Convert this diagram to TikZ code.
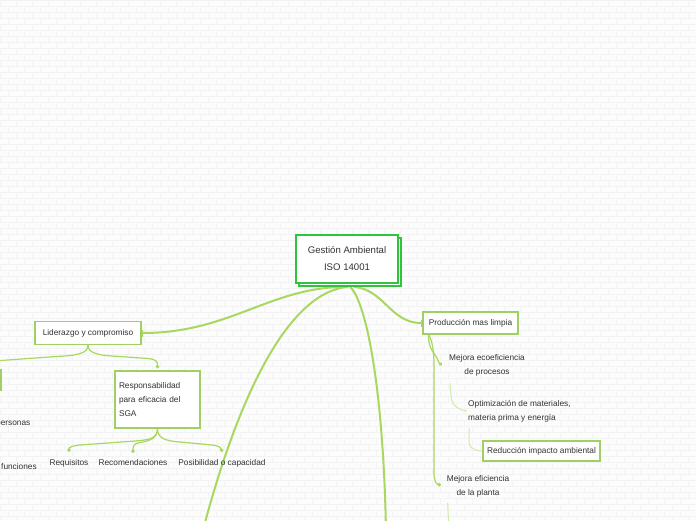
\documentclass[tikz,border=0pt]{standalone}
\usepackage{fontspec}
\setmainfont{Liberation Sans}
\usetikzlibrary{arrows.meta,backgrounds}
\definecolor{connc}{RGB}{168,216,94}
\definecolor{connlight}{RGB}{208,234,170}
\definecolor{boxline}{RGB}{160,208,100}
\definecolor{centralline}{RGB}{46,196,60}
\definecolor{txt}{RGB}{50,50,50}
\definecolor{bgc}{RGB}{252,252,252}
\definecolor{brick}{RGB}{243,243,243}
\begin{document}
\begin{tikzpicture}[x=1pt,y=-1pt,
  font=\fontsize{8.3}{14}\selectfont, text=txt,
  box/.style={draw=boxline,line width=1.3pt,fill=white,inner sep=3pt},
  cbox/.style={draw=centralline,line width=1.6pt,fill=white,minimum width=102pt,minimum height=48pt,align=center,font=\fontsize{9.6}{17}\selectfont},
  leaf/.style={inner sep=1pt},
  conn/.style={draw=connc,line width=2pt},
  connthin/.style={draw=connc,line width=1.2pt},
  connfaint/.style={draw=connlight,line width=1pt},
  dotend/.style={-{Circle[length=3.5pt]}},
  barend/.style={-{Bar[width=7pt,line width=1.3pt]}},
]
\useasboundingbox (0,0) rectangle (696,520);
\clip (0,0) rectangle (696,520);

% nodes
\node[cbox] (cb) at (350,262) {};
\node[cbox] (c) at (347,259) {Gestión Ambiental\\ISO 14001};
\node[box,minimum width=106pt,minimum height=23pt] (lid) at (88,333) {Liderazgo y compromiso};
\node[box,minimum width=85pt,minimum height=57pt,text width=77pt,align=left] (resp) at (157.5,399.5) {Responsabilidad\\para eficacia del\\SGA};
\node[box,minimum width=82pt,minimum height=20pt] (lb) at (-40,380) {};
\node[leaf,anchor=west] (pers) at (-5,424) {personas};
\node[leaf,anchor=west] (func) at (0,467) {funciones};
\node[leaf] (req) at (69,463) {Requisitos};
\node[leaf] (rec) at (133,463) {Recomendaciones};
\node[leaf] (pos) at (222,463) {Posibilidad o capacidad};
\node[box,minimum width=95pt,minimum height=22pt] (prod) at (470.5,323) {Producción mas limpia};
\node[leaf,align=center] (eco) at (487,365) {Mejora ecoeficiencia\\de procesos};
\node[leaf,align=left,anchor=west] (opt) at (467,411) {Optimización de materiales,\\materia prima y energía};
\node[box,minimum width=117pt,minimum height=20pt] (red) at (541.5,451) {Reducción impacto ambiental};
\node[leaf,align=center] (pla) at (478,486) {Mejora eficiencia\\de la planta};
\coordinate (lend) at (203,530);
\coordinate (rend) at (386,530);
\coordinate (pend) at (449,530);

\begin{pgfonlayer}{background}
\fill[bgc] (0,0) rectangle (696,520);
\foreach \r in {0,...,86}{
  \draw[brick,line width=0.4pt] (0,\r*6) -- (696,\r*6);
  \pgfmathsetmacro\off{mod(\r,2)*8}
  \foreach \cc in {0,16,...,704}{
    \draw[brick,line width=0.4pt] (\cc+\off,\r*6) -- (\cc+\off,\r*6+6);
  }
}
% main connectors
\draw[conn,barend] ([xshift=-4pt]cb.south) .. controls (270,287) and (230,333) .. (lid.east);
\draw[conn] ([xshift=-2pt]cb.south) .. controls (290,292) and (240,390) .. (lend);
\draw[conn] (cb.south) .. controls (365,300) and (383,380) .. (rend);
\draw[conn,barend] ([xshift=4pt]cb.south) .. controls (385,290) and (390,323) .. (prod.west);
% liderazgo children
\draw[connthin,dotend] (lid.south) .. controls (88,354) and (100,355.5) .. (120,356.5) -- (148,358.5) .. controls (157,359.5) and (157.5,362) .. ([yshift=2pt]resp.north);
\draw[connthin] (lid.south) .. controls (88,354) and (76,355.5) .. (56,356.5) -- (-20,362) .. controls (-38,363) .. (lb.north);
% responsabilidad children
\draw[connthin,dotend] (resp.south) .. controls (157.5,438) and (150,440) .. (135,441) -- (80,445) .. controls (70,446) and (69,448) .. ([yshift=6pt]req.north);
\draw[connthin,dotend] (resp.south) .. controls (157.5,438) and (150,441) .. (140,442.5) .. controls (134,443.5) and (133,446) .. ([yshift=6pt]rec.north);
\draw[connthin,dotend] (resp.south) .. controls (157.5,438) and (165,441) .. (180,442) -- (212,445) .. controls (220,446) and (221,448) .. ([yshift=6pt]pos.north);
% produccion children
\draw[connthin,dotend] ([xshift=-42pt]prod.south) .. controls (428.5,350) and (434,352) .. (437,358) .. controls (439,363) .. (442,365);
\draw[connthin,dotend] ([xshift=-42pt]prod.south) .. controls (432,340) and (434,350) .. (434,365) -- (434,472) .. controls (434,481) and (436,484) .. (441,485);
\draw[connfaint] ([xshift=2pt,yshift=-6pt]eco.south west) -- (451,395) .. controls (451,405) and (458,410) .. (opt.west);
\draw[connfaint] ([xshift=2pt,yshift=-5pt]opt.south west) -- (469,442) .. controls (469,448) and (475,451) .. (red.west);
\draw[connfaint] ([xshift=2pt,yshift=-5pt]pla.south west) -- (pend);
\end{pgfonlayer}
\end{tikzpicture}
\end{document}
